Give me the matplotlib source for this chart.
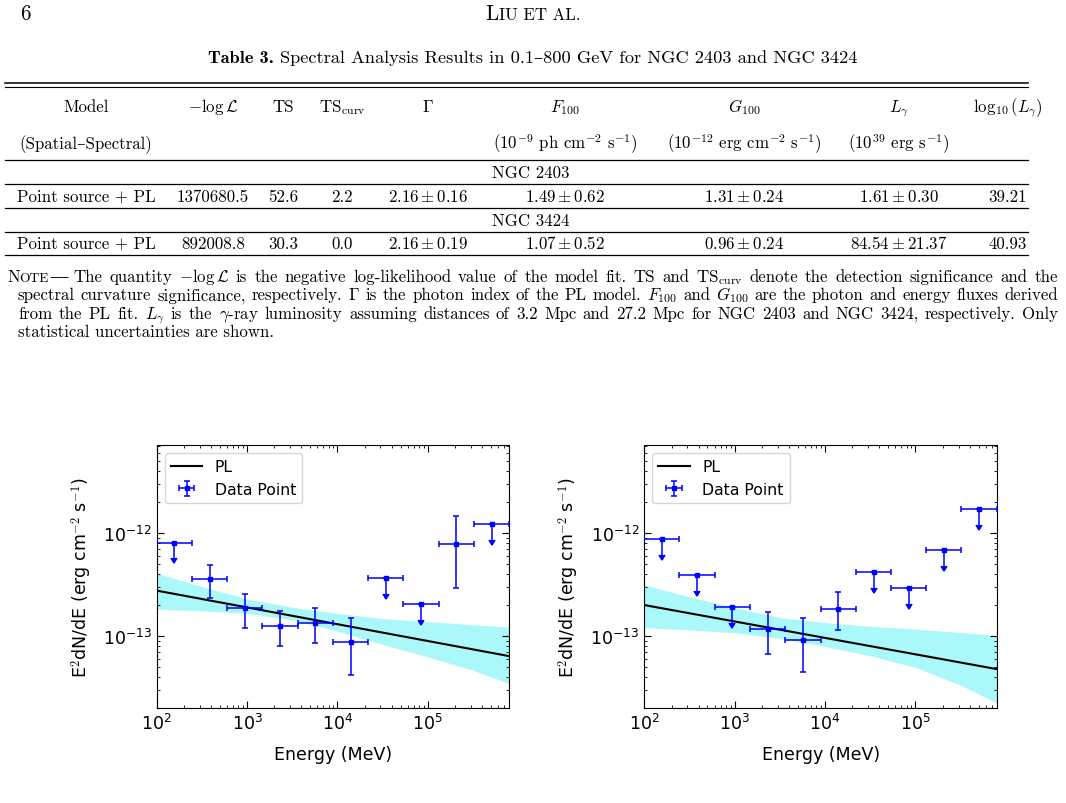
import numpy as np
import matplotlib
matplotlib.use("Agg")
import matplotlib.pyplot as plt
from matplotlib.lines import Line2D
from matplotlib.ticker import NullFormatter

# ------------------------------------------------------------------ data
energy_edges = [100, 245, 603, 1479, 3631, 8913, 21878, 53703, 131826, 323594, 794328]
energy = [157, 385, 946, 2323, 5705, 14015, 34430, 84580, 207800, 510500]

ngc2403_flux = [8.07e-13, 3.6e-13, 1.86e-13, 1.24e-13, 1.33e-13, 8.75e-14, 3.63e-13, 2.03e-13, 7.77e-13, 1.22e-12]
ngc2403_upper = [np.nan, 4.9e-13, 2.58e-13, 1.74e-13, 1.87e-13, 1.49e-13, np.nan, np.nan, 1.45e-12, np.nan]
ngc2403_lower = [np.nan, 2.36e-13, 1.19e-13, 7.94e-14, 8.6e-14, 4.25e-14, np.nan, np.nan, 2.92e-13, np.nan]
ngc2403_is_ul = [True, False, False, False, False, False, True, True, False, True]

ngc3424_flux = [8.68e-13, 3.88e-13, 1.91e-13, 1.16e-13, 9.2e-14, 1.82e-13, 4.22e-13, 2.92e-13, 6.9e-13, 1.70e-12]
ngc3424_upper = [np.nan, np.nan, np.nan, 1.70e-13, 1.49e-13, 2.68e-13, np.nan, np.nan, np.nan, np.nan]
ngc3424_lower = [np.nan, np.nan, np.nan, 6.7e-14, 4.53e-14, 1.15e-13, np.nan, np.nan, np.nan, np.nan]
ngc3424_is_ul = [True, True, True, False, False, False, True, True, True, True]

pl_energy = [1e2, 8e5]
ngc2403_pl = [2.76e-13, 6.4e-14]
ngc3424_pl = [2.0e-13, 4.79e-14]

band_energy = [1e2, 3.16e2, 1e3, 3.16e3, 1e4, 3.16e4, 1e5, 3.16e5, 8e5]
ngc2403_band_hi = [4.06e-13, 3.02e-13, 2.29e-13, 1.905e-13, 1.66e-13, 1.48e-13, 1.38e-13, 1.29e-13, 1.22e-13]
ngc2403_band_lo = [1.82e-13, 1.76e-13, 1.66e-13, 1.445e-13, 1.12e-13, 8.3e-14, 6.3e-14, 4.68e-14, 3.47e-14]
ngc3424_band_hi = [3.13e-13, 2.4e-13, 1.89e-13, 1.51e-13, 1.35e-13, 1.245e-13, 1.167e-13, 1.084e-13, 1.016e-13]
ngc3424_band_lo = [1.21e-13, 1.15e-13, 1.08e-13, 9.55e-14, 7.94e-14, 6.46e-14, 5.0e-14, 3.35e-14, 2.25e-14]

x_ticks = [1e2, 1e3, 1e4, 1e5]
y_ticks = [1e-13, 1e-12]

table_header = ["Model", r"$-\log\mathcal{L}$", "TS", r"TS$_{\mathrm{curv}}$", r"$\Gamma$",
                r"$F_{100}$", r"$G_{100}$", r"$L_\gamma$", r"$\log_{10}(L_\gamma)$"]
table_units = ["(Spatial\u2013Spectral)", "", "", "", "",
               r"(10$^{-9}$ ph cm$^{-2}$ s$^{-1}$)",
               r"(10$^{-12}$ erg cm$^{-2}$ s$^{-1}$)",
               r"(10$^{39}$ erg s$^{-1}$)", ""]
ngc2403_row = ["Point source + PL", "1370680.5", "52.6", "2.2", r"$2.16\pm0.16$",
               r"$1.49\pm0.62$", r"$1.31\pm0.24$", r"$1.61\pm0.30$", "39.21"]
ngc3424_row = ["Point source + PL", "892008.8", "30.3", "0.0", r"$2.16\pm0.19$",
               r"$1.07\pm0.52$", r"$0.96\pm0.24$", r"$84.54\pm21.37$", "40.93"]

title_bold = "Table 3."
title_text = "Spectral Analysis Results in 0.1\u2013800 GeV for NGC 2403 and NGC 3424"
note_lines = [
    r"The quantity $-\log\mathcal{L}$ is the negative log-likelihood value of the model fit.  TS and TS$_{\mathrm{curv}}$ denote the detection significance and the",
    r"spectral curvature significance, respectively. $\Gamma$ is the photon index of the PL model. $F_{100}$ and $G_{100}$ are the photon and energy fluxes derived",
    r"from the PL fit. $L_\gamma$ is the $\gamma$-ray luminosity assuming distances of 3.2 Mpc and 27.2 Mpc for NGC 2403 and NGC 3424, respectively. Only",
    "statistical uncertainties are shown.",
]

# ------------------------------------------------------------------ figure
plt.rcParams["mathtext.fontset"] = "cm"
SERIF = ["cmr10", "DejaVu Serif"]
BOLD = ["cmb10", "DejaVu Serif"]
W, H = 1066, 804
fig = plt.figure(figsize=(W / 100, H / 100), dpi=100)
renderer = fig.canvas.get_renderer()


def T(x, y, s, size, ha="center", family=SERIF):
    return fig.text(x / W, 1 - y / H, s, ha=ha, va="baseline", fontsize=size, family=family)


def width(t):
    return t.get_window_extent(renderer).width


def fit_size(s, target, family=SERIF):
    t = T(10, 100, s, 10, ha="left", family=family)
    w = width(t)
    t.remove()
    return 10 * target / w


def seq(pieces, x, y, ha="left"):
    texts = [T(x, y, s, sz, ha="left", family=fam) for s, sz, fam in pieces]
    ws = [width(t) for t in texts]
    x0 = x - sum(ws) / 2 if ha == "center" else x
    for t, w in zip(texts, ws):
        t.set_x(x0 / W)
        x0 += w
    return x0


def justify(line, x0, x1, y, size):
    toks = line.split()
    texts = [T(x0, y, s, size, ha="left") for s in toks]
    ws = [width(t) for t in texts]
    gap = (x1 - x0 - sum(ws)) / (len(toks) - 1)
    x = x0
    for t, w in zip(texts, ws):
        t.set_x(x / W)
        x += w + gap


def rule(y, lw=0.9, x0=5, x1=1028):
    fig.add_artist(Line2D([x0 / W, x1 / W], [1 - y / H] * 2, transform=fig.transFigure,
                          color="black", lw=lw))


body = fit_size("Point source + PL", 138)
note_sz = fit_size("statistical uncertainties are shown.", 256)
title_sz = fit_size(title_text, 580)

# page header
T(25, 20, "6", body * 1.25)
seq([("L", body * 1.25, SERIF), ("IU ET AL.", body * 1.0, SERIF)], 533, 20, ha="center")

# title
seq([(title_bold + " ", title_sz, BOLD), (title_text, title_sz, SERIF)], 533, 63, ha="center")

# table
col_x = [86, 213, 283, 342, 428, 565, 744, 899, 1008]
rule(83.5, 1.1)
rule(87.5, 0.8)
for x, s in zip(col_x, table_header):
    T(x, 112, s, body)
for x, s in zip(col_x, table_units):
    if s:
        T(x, 149, s, body)
rule(161)
T(531, 178, "NGC 2403", body)
rule(185)
for x, s in zip(col_x, ngc2403_row):
    T(x, 202, s, body)
rule(208.5)
T(531, 226, "NGC 3424", body)
rule(232.5)
for x, s in zip(col_x, ngc3424_row):
    T(x, 249, s, body)
rule(256)

# note
note_y = [282, 300.5, 319, 337.5]
xe = seq([("N", note_sz, SERIF), ("OTE", note_sz * 0.8, SERIF), ("\u2014", note_sz * 1.15, ["DejaVu Serif"])],
         7, note_y[0])
justify(note_lines[0], xe + 5, 1058, note_y[0], note_sz)
justify(note_lines[1], 18, 1058, note_y[1], note_sz)
justify(note_lines[2], 18, 1058, note_y[2], note_sz)
T(18, note_y[3], note_lines[3], note_sz, ha="left")

# ------------------------------------------------------------------ plots
FS = 12.5
ax_rects = [
    [156.7 / W, 1 - 709.3 / H, (509.3 - 156.7) / W, (709.3 - 446) / H],
    [644.3 / W, 1 - 709.3 / H, (997 - 644.3) / W, (709.3 - 446) / H],
]
panels = [
    (ngc2403_flux, ngc2403_upper, ngc2403_lower, ngc2403_is_ul, ngc2403_pl, ngc2403_band_lo, ngc2403_band_hi),
    (ngc3424_flux, ngc3424_upper, ngc3424_lower, ngc3424_is_ul, ngc3424_pl, ngc3424_band_lo, ngc3424_band_hi),
]
E = np.array(energy)
edges = np.array(energy_edges)
xerr = [E - edges[:-1], edges[1:] - E]

for rect, (flux, up, lo, isul, pl, blo, bhi) in zip(ax_rects, panels):
    ax = fig.add_axes(rect)
    F = np.array(flux)
    ul = np.array(isul)
    ylo = np.where(ul, 0.3 * F, F - np.array(lo))
    yhi = np.where(ul, 0.0, np.array(up) - F)
    ax.fill_between(band_energy, blo, bhi, color="#aaf8fa", lw=0, zorder=1)
    line, = ax.plot(pl_energy, pl, color="black", lw=1.5, zorder=2, label="PL")
    eb = ax.errorbar(E, F, xerr=xerr, yerr=[ylo, yhi], uplims=ul, fmt="s", ms=3,
                     color="blue", ecolor="blue", elinewidth=1.1, capsize=2.5, capthick=1.1,
                     zorder=3, label="Data Point")
    ax.set_xscale("log")
    ax.set_yscale("log")
    ax.set_xticks(x_ticks)
    ax.set_yticks(y_ticks)
    ax.set_xlim(100, 8e5)
    ax.set_ylim(2e-14, 7.1e-12)
    ax.xaxis.set_minor_formatter(NullFormatter())
    ax.yaxis.set_minor_formatter(NullFormatter())
    ax.tick_params(which="both", direction="in", top=True, right=True, labelsize=FS)
    ax.tick_params(which="major", length=5)
    ax.tick_params(which="minor", length=2.5)
    ax.set_xlabel("Energy (MeV)", fontsize=FS, labelpad=8.5)
    ax.set_ylabel(r"E$^2$dN/dE (erg cm$^{-2}$ s$^{-1}$)", fontsize=FS, labelpad=6.5)
    ax.legend(handles=[line, eb], loc="upper left", fontsize=11.3)

fig.savefig("out.png", dpi=100)
